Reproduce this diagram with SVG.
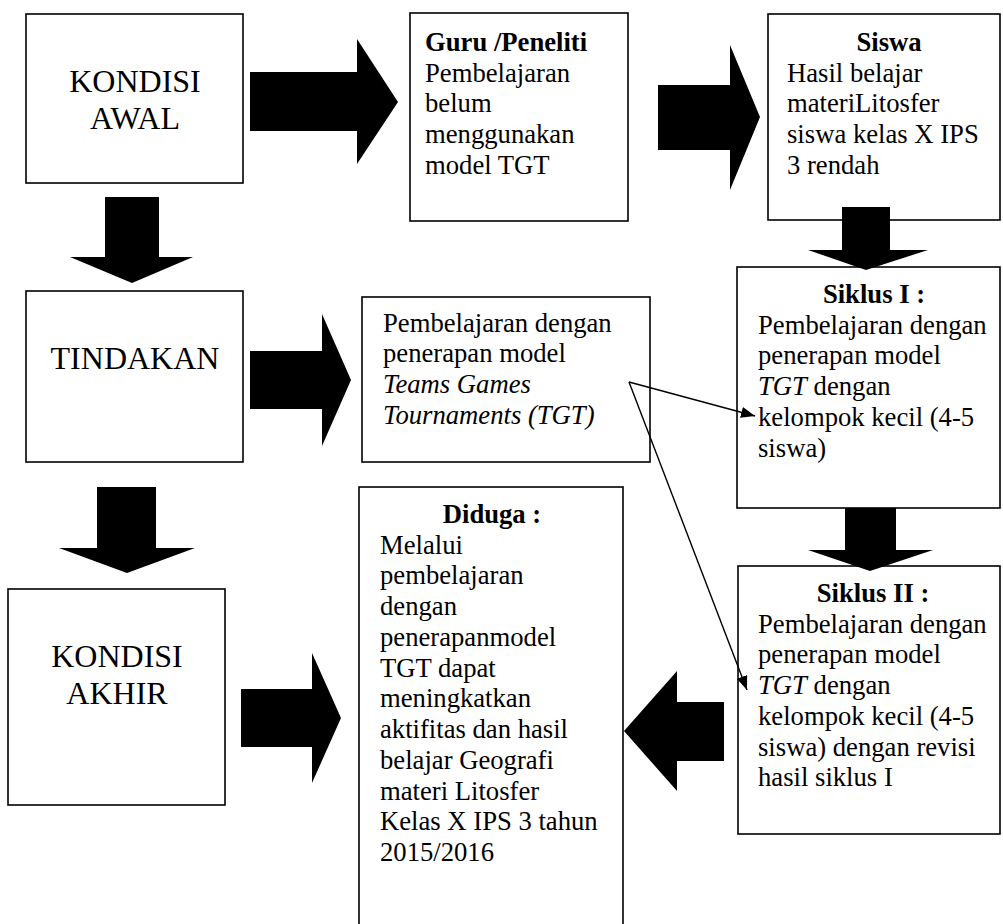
<svg xmlns="http://www.w3.org/2000/svg" width="1003" height="924" viewBox="0 0 1003 924">
<style>
.box{fill:#fff;stroke:#000;stroke-width:1.6}
.t{font-family:"Liberation Serif","Times New Roman",serif;font-size:26.67px;fill:#000}
.big{font-family:"Liberation Serif","Times New Roman",serif;font-size:32px;fill:#000;text-anchor:middle}
.b{font-weight:bold}
.c{text-anchor:middle}
.i{font-style:italic}
.blk{fill:#000;stroke:none}
.thin{stroke:#000;stroke-width:1.4;fill:none;marker-end:url(#ah)}
</style>
<defs>
<marker id="ah" markerUnits="userSpaceOnUse" markerWidth="14" markerHeight="11" refX="14" refY="5.5" orient="auto">
<path d="M0,0 L14,5.5 L0,11 z" fill="#000"/>
</marker>
</defs>
<rect width="1003" height="924" fill="#fff"/>
<g id="kondisi-awal">
<rect class="box" x="26" y="14" width="217" height="169"/>
<text class="big" x="135" y="92">KONDISI</text>
<text class="big" x="135" y="129">AWAL</text>
</g>
<g id="guru-peneliti">
<rect class="box" x="410" y="13" width="218" height="208"/>
<text class="t b" x="425" y="51">Guru /Peneliti</text>
<text class="t" x="425" y="82">Pembelajaran</text>
<text class="t" x="425" y="112">belum</text>
<text class="t" x="425" y="143">menggunakan</text>
<text class="t" x="425" y="174">model TGT</text>
</g>
<g id="siswa">
<rect class="box" x="768" y="14" width="232" height="206"/>
<text class="t b c" x="889" y="51">Siswa</text>
<text class="t" x="787" y="82">Hasil belajar</text>
<text class="t" x="787" y="112">materiLitosfer</text>
<text class="t" x="787" y="143">siswa kelas X IPS</text>
<text class="t" x="787" y="174">3 rendah</text>
</g>
<g id="tindakan">
<rect class="box" x="26" y="291" width="217" height="171"/>
<text class="big" x="135" y="369">TINDAKAN</text>
</g>
<g id="tgt">
<rect class="box" x="362" y="297" width="288" height="165"/>
<text class="t" x="383" y="332">Pembelajaran dengan</text>
<text class="t" x="383" y="362">penerapan model</text>
<text class="t i" x="383" y="393">Teams Games</text>
<text class="t i" x="383" y="424">Tournaments (TGT)</text>
</g>
<g id="siklus-1">
<rect class="box" x="737" y="267" width="263" height="241"/>
<text class="t b c" x="874" y="303">Siklus I :</text>
<text class="t" x="758" y="334">Pembelajaran dengan</text>
<text class="t" x="758" y="364">penerapan model</text>
<text class="t" x="758" y="395"><tspan class="i">TGT</tspan> dengan</text>
<text class="t" x="758" y="426">kelompok kecil (4-5</text>
<text class="t" x="758" y="457">siswa)</text>
</g>
<g id="kondisi-akhir">
<rect class="box" x="8" y="589" width="217" height="216"/>
<text class="big" x="117" y="667">KONDISI</text>
<text class="big" x="117" y="704">AKHIR</text>
</g>
<g id="diduga">
<rect class="box" x="359" y="487" width="264" height="450"/>
<text class="t b c" x="492" y="523">Diduga :</text>
<text class="t" x="380" y="554">Melalui</text>
<text class="t" x="380" y="584">pembelajaran</text>
<text class="t" x="380" y="615">dengan</text>
<text class="t" x="380" y="646">penerapanmodel</text>
<text class="t" x="380" y="677">TGT dapat</text>
<text class="t" x="380" y="707">meningkatkan</text>
<text class="t" x="380" y="738">aktifitas dan hasil</text>
<text class="t" x="380" y="769">belajar Geografi</text>
<text class="t" x="380" y="800">materi Litosfer</text>
<text class="t" x="380" y="830">Kelas X IPS 3 tahun</text>
<text class="t" x="380" y="861">2015/2016</text>
</g>
<g id="siklus-2">
<rect class="box" x="738" y="566" width="262" height="268"/>
<text class="t b c" x="873" y="602">Siklus II :</text>
<text class="t" x="758" y="633">Pembelajaran dengan</text>
<text class="t" x="758" y="663">penerapan model</text>
<text class="t" x="758" y="694"><tspan class="i">TGT</tspan> dengan</text>
<text class="t" x="758" y="725">kelompok kecil (4-5</text>
<text class="t" x="758" y="756">siswa) dengan revisi</text>
<text class="t" x="758" y="786">hasil siklus I</text>
</g>
<g id="connectors">
<polygon class="blk" points="250,72 357,72 357,39 398,102 357,164 357,131 250,131"/>
<polygon class="blk" points="658,85 730,85 730,45 760,117 730,190 730,150 658,150"/>
<polygon class="blk" points="250,351 322,351 322,314 351,380 322,446 322,409 250,409"/>
<polygon class="blk" points="241,689 312,689 312,653 341,718 312,783 312,747 241,747"/>
<polygon class="blk" points="724,702 677,702 677,671 624,731 677,791 677,761 724,761"/>
<polygon class="blk" points="105,197 159,197 159,257 193,257 132,283 70,257 105,257"/>
<polygon class="blk" points="97,487 156,487 156,548 195,548 127,573 59,548 97,548"/>
<polygon class="blk" points="842,207 890,207 890,250 928,250 866,270 808,250 842,250"/>
<polygon class="blk" points="845,508 896,508 896,550 933,550 870,571 808,550 845,550"/>
<line class="thin" x1="629" y1="382" x2="755" y2="416"/>
<line class="thin" x1="629" y1="382" x2="747" y2="690"/>
</g>
</svg>
